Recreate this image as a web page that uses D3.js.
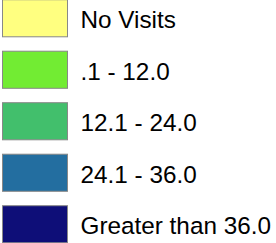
<!DOCTYPE html>
<html><head><meta charset="utf-8">
<script src="https://cdn.jsdelivr.net/npm/d3@7"></script>
<style>html,body{margin:0;padding:0;background:#fff;overflow:hidden}</style>
</head><body><svg id="c" width="276" height="243"></svg>
<script>
const labels = ["No Visits", ".1 - 12.0", "12.1 - 24.0", "24.1 - 36.0", "Greater than 36.0"];
const colors = ["#ffff80", "#72ec33", "#42bf6c", "#236ea0", "#0e0e78"];

const svg = d3.select("#c");
const y = d3.scaleBand().domain(labels).range([-7.5, 250]).paddingInner(0.28).paddingOuter(0.14);
const g = svg.selectAll("g.item").data(labels).join("g").attr("class","item");
g.append("rect")
  .attr("x", 2.5).attr("y", d => y(d))
  .attr("width", 65).attr("height", y.bandwidth())
  .attr("fill", (d,i) => colors[i])
  .attr("stroke", "#888").attr("stroke-width", 1);
g.append("text")
  .attr("x", 80.5).attr("y", d => y(d) + y.bandwidth()/2)
  .attr("dy", "0.42em")
  .attr("font-family", "Liberation Sans, Arial, sans-serif")
  .attr("font-size", 24.3).attr("fill", "#000")
  .text(d => d);
</script></body></html>
